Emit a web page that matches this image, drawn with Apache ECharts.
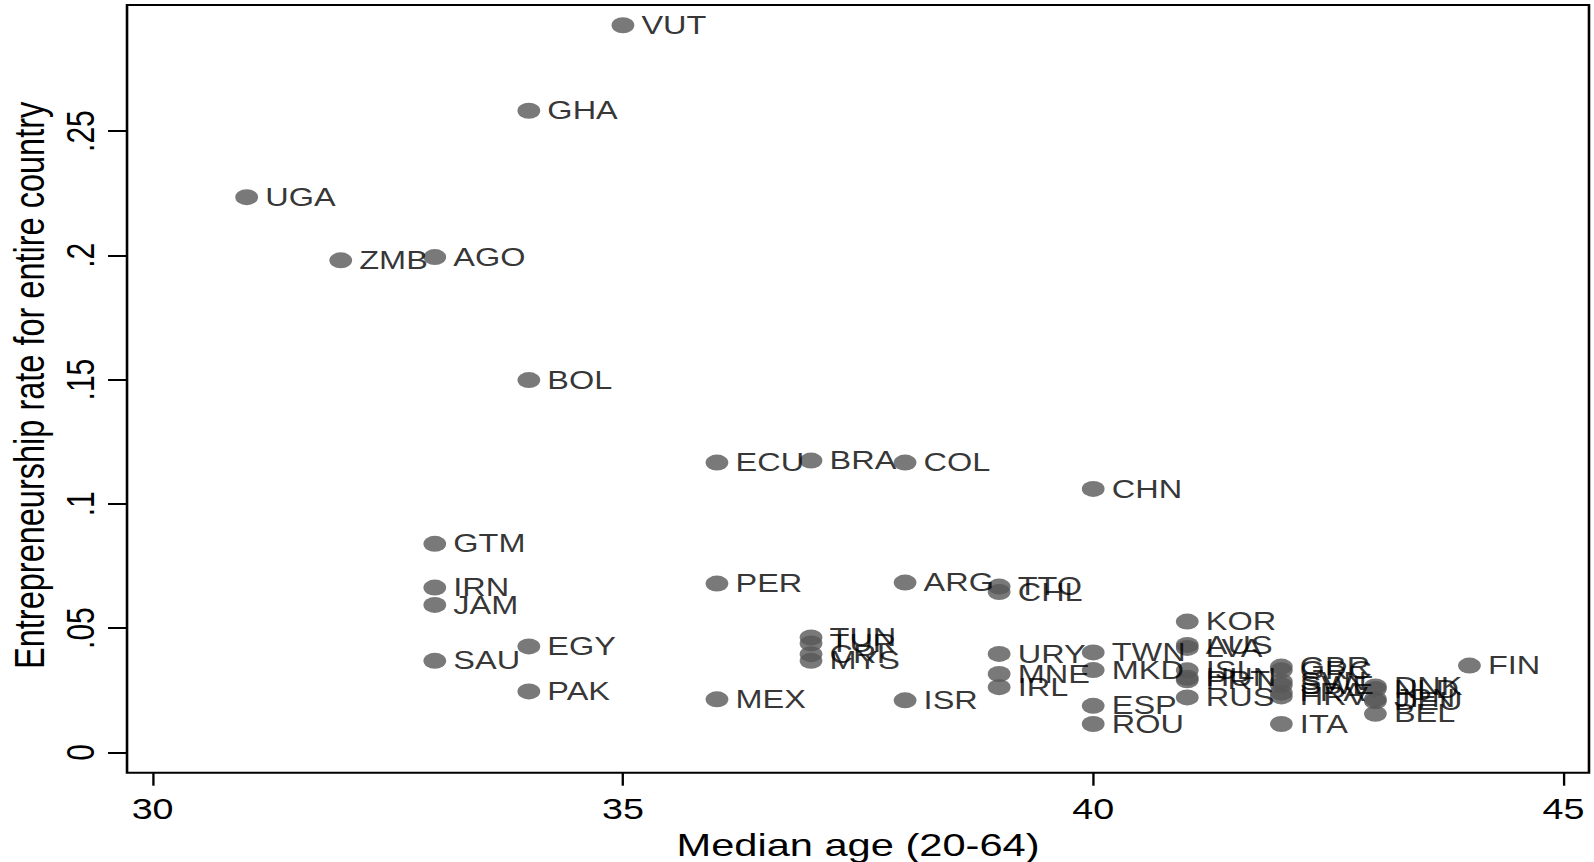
<!DOCTYPE html>
<html><head><meta charset="utf-8">
<script src="https://cdn.jsdelivr.net/npm/echarts@6/dist/echarts.min.js"></script>
<style>
html,body{margin:0;padding:0;width:1594px;height:862px;overflow:hidden;background:#fff;}
#chart{width:1226px;height:862px;transform:scaleX(1.30016);transform-origin:0 0;}
</style></head><body><div id="chart"></div>
<script>
const countries = ['VUT','GHA','UGA','ZMB','AGO','BOL','ECU','BRA','COL','CHN',
  'GTM','IRN','JAM','SAU','EGY','PAK','PER','MEX','ARG','TTO','CHL','ISR',
  'TUN','TUR','CRI','MYS','URY','MNE','IRL','TWN','MKD','ESP','ROU',
  'KOR','AUS','LVA','ISL','HUN','PRT','RUS',
  'GBR','GRC','SVN','SWE','FRA','HRV','ITA',
  'DNK','NLD','JPN','DEU','BEL','FIN'];
const medianAge = [35,34,31,32,33,34,36,37,38,40,
  33,33,33,33,34,34,36,36,38,39,39,38,
  37,37,37,37,39,39,39,40,40,40,40,
  41,41,41,41,41,41,41,
  42,42,42,42,42,42,42,
  43,43,43,43,43,44];
const entrepRate = [0.2926,0.2582,0.2234,0.1980,0.1993,0.1498,0.1166,0.1174,0.1166,0.1060,
  0.0839,0.0663,0.0593,0.0368,0.0426,0.0245,0.0679,0.0213,0.0683,0.0667,0.0645,0.0209,
  0.0462,0.0438,0.0395,0.0368,0.0396,0.0315,0.0262,0.0402,0.0331,0.0187,0.0114,
  0.0526,0.0432,0.0420,0.0330,0.0300,0.0290,0.0221,
  0.0345,0.0330,0.0285,0.0270,0.0240,0.0225,0.0114,
  0.0265,0.0255,0.0215,0.0205,0.0155,0.0349];
const xTicks = [30,35,40,45];
const xTickLabels = ['30','35','40','45'];
const yTicks = [0,0.05,0.1,0.15,0.2,0.25];
const yTickLabels = ['0','.05','.1','.15','.2','.25'];

const FONT = "'Liberation Sans', Arial, sans-serif";
const points = countries.map((c,i)=>[medianAge[i], entrepRate[i], c]);
const chart = echarts.init(document.getElementById('chart'), null, {renderer:'svg'});
chart.setOption({
  animation:false,
  backgroundColor:'#fff',
  grid:{left:97.7,right:3.85,top:5,bottom:89.3,show:true,borderColor:'#000',borderWidth:2,
        backgroundColor:'#fff',containLabel:false,outerBoundsMode:'none'},
  xAxis:{type:'value',min:29.728,max:45.271,
    splitLine:{show:false},
    axisLine:{show:false,onZero:false},
    axisTick:{show:true,length:13,customValues:xTicks,lineStyle:{color:'#000',width:1.8}},
    axisLabel:{show:true,customValues:xTicks,margin:22,color:'#000',fontSize:29,fontFamily:FONT,
      formatter:v=>{const i=xTicks.findIndex(t=>Math.abs(t-v)<1e-9);return i>=0?xTickLabels[i]:'';}},
    name:'Median age (20-64)',nameLocation:'middle',nameGap:45,
    nameTextStyle:{color:'#000',fontSize:32,fontFamily:FONT}
  },
  yAxis:{type:'value',min:-0.00821,max:0.30075,
    splitLine:{show:false},
    axisLine:{show:false,onZero:false},
    axisTick:{show:true,length:14.6,customValues:yTicks,lineStyle:{color:'#000',width:2}},
    axisLabel:{show:true,customValues:yTicks,rotate:90,margin:21,color:'#000',fontSize:30,fontFamily:FONT,
      formatter:v=>{const i=yTicks.findIndex(t=>Math.abs(t-v)<1e-9);return i>=0?yTickLabels[i]:'';}},
    name:'Entrepreneurship rate for entire country',nameLocation:'middle',nameGap:56,
    nameTextStyle:{color:'#000',fontSize:32.5,fontFamily:FONT,padding:[0,0,0,7]}
  },
  series:[{
    type:'scatter',
    data:points,
    symbol:'path://M0,7 A8,7 0 1,1 16,7 A8,7 0 1,1 0,7 Z',
    symbolSize:[17.5,16],
    itemStyle:{color:'#585858'},
    label:{show:true,position:'right',distance:5.5,color:'#000',fontSize:25,fontFamily:FONT,
      formatter:p=>p.data[2]},
    emphasis:{disabled:true},
    silent:true
  }]
});
</script></body></html>
